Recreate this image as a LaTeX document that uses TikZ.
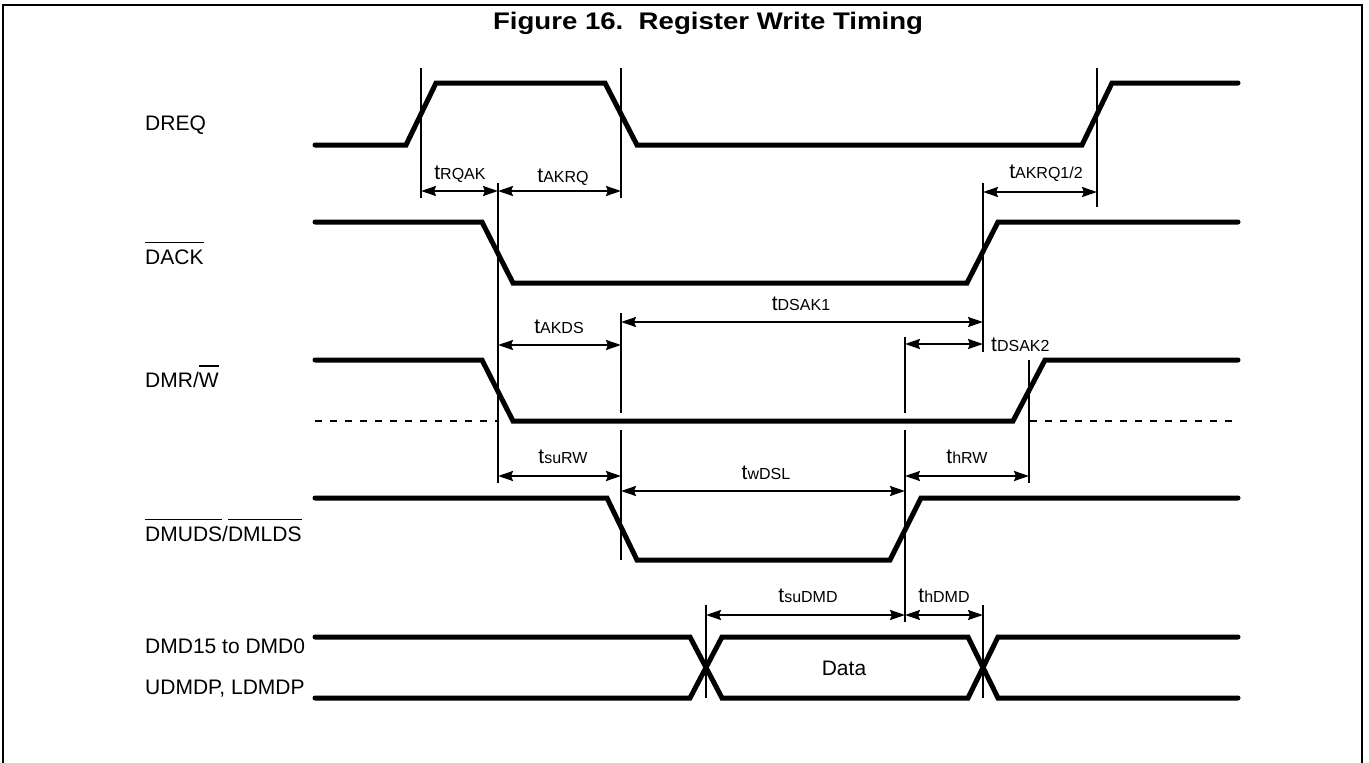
\documentclass[tikz,border=0pt]{standalone}
\usepackage{fontspec}
\setmainfont{Liberation Sans}
\usetikzlibrary{arrows.meta}
\newcommand{\tm}[1]{{\fontsize{21}{24}\selectfont t}{\fontsize{16}{19}\selectfont #1}}
\newcommand{\ovl}[1]{\setbox0\hbox{#1}\rlap{\raisebox{\dimexpr\ht0+6pt\relax}{\rule{\wd0}{1.3pt}}}\box0}
\begin{document}
\begin{tikzpicture}[x=1pt,y=-1pt,
  sig/.style={line width=5pt, line cap=round, line join=miter},
  refl/.style={line width=2pt},
  dash15/.style={line width=2pt, dash pattern=on 7pt off 8pt},
  dim/.style={line width=2pt, {Stealth[length=15pt,width=10pt,inset=2pt]}-{Stealth[length=15pt,width=10pt,inset=2pt]}},
  lbl/.style={font=\fontsize{21}{24}\selectfont, anchor=base west, inner sep=0pt},
  tlbl/.style={anchor=base, inner sep=0pt},
]
\useasboundingbox (0,0) rectangle (1369,763);
% frame
\draw[line width=2pt] (3,764) -- (3,5) -- (1362,5) -- (1362,764);
% title
\node[font=\bfseries\fontsize{24}{28}\selectfont, inner sep=0pt] (title) at (708,23) {\scalebox{1.15}[1]{Figure 16.\ \ Register Write Timing}};

% signal labels
\node[lbl] (ldreq) at (145,130) {DREQ};
\node[lbl] (ldack) at (145,264) {\ovl{DACK}};
\node[lbl] (ldmrw) at (145,387) {DMR/\ovl{W}};
\node[lbl] (lds) at (145,541) {\ovl{DMUDS}/\ovl{DMLDS}};
\node[lbl] (ldmd) at (145,653) {DMD15 to DMD0};
\node[lbl] (ludmdp) at (145,694) {UDMDP, LDMDP};

% waveforms
\draw[sig] (315,145) -- (406,145) -- (436,83) -- (605,83) -- (637,145) -- (1082,145) -- (1112,83) -- (1238,83);
\draw[sig] (315,222) -- (482,222) -- (513,283) -- (967,283) -- (998,222) -- (1238,222);
\draw[sig] (315,360) -- (482,360) -- (513,421) -- (1013,421) -- (1045,360) -- (1238,360);
\draw[dash15] (315,421) -- (498,421);
\draw[dash15] (1030,421) -- (1238,421);
\draw[sig] (315,498) -- (607,498) -- (637,560) -- (890,560) -- (921,498) -- (1238,498);
\draw[sig] (315,637) -- (690,637) -- (722,698) -- (968,698) -- (998,637) -- (1238,637);
\draw[sig] (315,698) -- (690,698) -- (722,637) -- (968,637) -- (998,698) -- (1238,698);
\node[tlbl] (ldata) at (844,675) {\fontsize{21}{24}\selectfont Data};

% reference lines
\draw[refl] (421,68) -- (421,198);
\draw[refl] (621,68) -- (621,198);
\draw[refl] (1097,68) -- (1097,207);
\draw[refl] (498,183) -- (498,483);
\draw[refl] (983,183) -- (983,352);
\draw[refl] (621,313) -- (621,413);
\draw[refl] (621,430) -- (621,560);
\draw[refl] (905,337) -- (905,413);
\draw[refl] (905,430) -- (905,622);
\draw[refl] (1029,360) -- (1029,483);
\draw[refl] (706,605) -- (706,698);
\draw[refl] (983,605) -- (983,698);

% dimension end points
\coordinate (q1) at (421,191);
\coordinate (q2) at (498,191);
\coordinate (q3) at (621,191);
\coordinate (q4) at (983,192);
\coordinate (q5) at (1097,192);
\coordinate (k1) at (498,345);
\coordinate (k2) at (621,345);
\coordinate (d1) at (621,322);
\coordinate (d2) at (983,322);
\coordinate (e1) at (905,344);
\coordinate (e2) at (983,344);
\coordinate (s1) at (498,476);
\coordinate (s2) at (621,476);
\coordinate (w1) at (621,491);
\coordinate (w2) at (905,491);
\coordinate (h1) at (905,476);
\coordinate (h2) at (1029,476);
\coordinate (m1) at (706,615);
\coordinate (m2) at (905,615);
\coordinate (m3) at (983,615);

\draw[dim] (q1) -- (q2);
\draw[dim] (q2) -- (q3);
\draw[dim] (q4) -- (q5);
\draw[dim] (k1) -- (k2);
\draw[dim] (d1) -- (d2);
\draw[dim] (e1) -- (e2);
\draw[dim] (s1) -- (s2);
\draw[dim] (w1) -- (w2);
\draw[dim] (h1) -- (h2);
\draw[dim] (m1) -- (m2);
\draw[dim] (m2) -- (m3);

% timing labels
\node[tlbl] (trqak) at (460,179) {\tm{RQAK}};
\node[tlbl] (takrq) at (563,182) {\tm{AKRQ}};
\node[tlbl] (takrq12) at (1046,178) {\tm{AKRQ1/2}};
\node[tlbl] (takds) at (559,333) {\tm{AKDS}};
\node[tlbl] (tdsak1) at (801,310) {\tm{DSAK1}};
\node[tlbl, anchor=base west] (tdsak2) at (991,351) {\tm{DSAK2}};
\node[tlbl] (tsurw) at (563,463) {\tm{suRW}};
\node[tlbl] (thrw) at (967,463) {\tm{hRW}};
\node[tlbl] (twdsl) at (766,479) {\tm{wDSL}};
\node[tlbl] (tsudmd) at (808,602) {\tm{suDMD}};
\node[tlbl] (thdmd) at (944,602) {\tm{hDMD}};
\end{tikzpicture}
\end{document}
